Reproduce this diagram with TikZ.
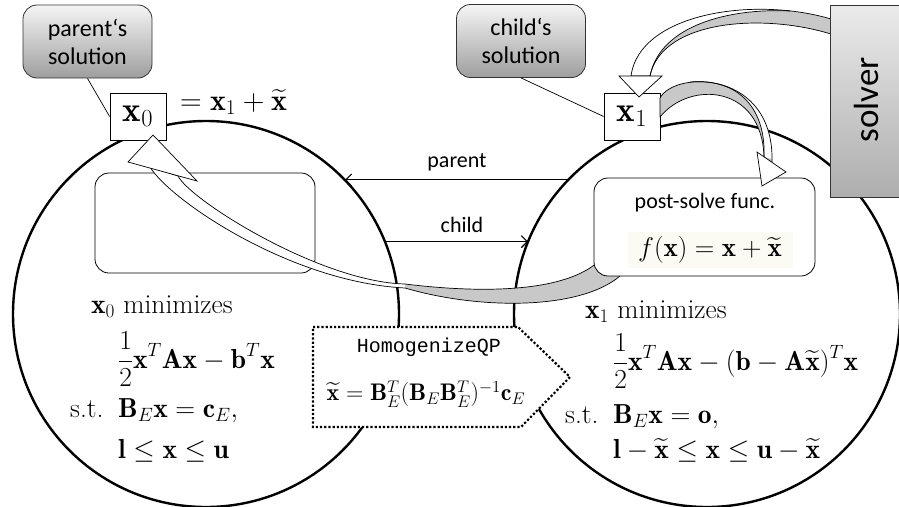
\RequirePackage{fix-cm}
\documentclass[tikz,border=0pt]{standalone}
\usepackage{amsmath}
\usepackage{fontspec}
\newfontfamily\calfont{Carlito}
\newfontfamily\hqmono{Liberation Mono}
\usetikzlibrary{arrows.meta}
\definecolor{ribgray}{RGB}{200,200,200}
\definecolor{cream}{RGB}{251,250,243}
\begin{document}
\begin{tikzpicture}[x=1pt,y=-1pt,
  bigcirc/.style={circle,draw,line width=2.4pt,inner sep=0pt,outer sep=0pt,minimum size=386pt},
  rbox/.style={draw,rounded corners=14pt,line width=0.8pt,fill=white,inner sep=0pt},
  callout/.style={draw=black!80,rounded corners=14pt,line width=0.8pt,top color=black!4,bottom color=black!38,minimum width=129pt,minimum height=73pt,align=center,font=\calfont\fontsize{24}{28}\selectfont,inner sep=0pt},
  xbox/.style={draw,fill=white,line width=0.8pt,minimum width=56pt,minimum height=47pt,inner sep=0pt,font=\fontsize{35}{40}\selectfont},
  sflab/.style={font=\calfont\fontsize{22}{27}\selectfont,inner sep=0pt},
  mtext/.style={font=\fontsize{27.5}{32}\selectfont,inner sep=0pt,anchor=base west},
  hline/.style={line width=1.1pt,-{Straight Barb[length=6pt,width=12pt,line width=1.1pt]}},
  ribline/.style={line width=0.7pt,line join=round},
  headst/.style={draw,line width=0.7pt,fill=white,line join=miter},
  hqdots/.style={line width=2.2pt,dash pattern=on 2.2pt off 2pt,fill=white},
]
\useasboundingbox (0,0) rectangle (899,506);

% circles
\node[bigcirc] (lc) at (206,314) {};
\node[bigcirc] (rc) at (707,314) {};

% inner left box
\node[rbox,minimum width=220pt,minimum height=100pt] (lbox) at (205,223) {};

% parent / child arrows
\draw[hline] (rc.136) -- (lc.44);
\node[sflab] (plab) at (457,162) {parent};
\draw[hline] (lc.22) -- (rc.158);
\node[sflab] (clab) at (462,225) {child};

% HomogenizeQP
\draw[hqdots] (313,327) -- (518,327) -- (570,377) -- (521,427) -- (313,427) -- cycle;
\node[font=\hqmono\fontsize{20}{24}\selectfont,inner sep=0pt] (hqt) at (429,347) {HomogenizeQP};
\node[font=\fontsize{24}{29}\selectfont,inner sep=0pt] (hqf) at (426,394)
  {$\widetilde{\mathbf x}=\mathbf B_E^T(\mathbf B_E\mathbf B_E^T)^{-1}\mathbf c_E$};

% callouts
\node[callout] (pcall) at (87.5,41.5) {parent‘s\\solution};
\node[callout] (ccall) at (521,41) {child‘s\\solution};

% x boxes
\node[xbox] (x0) at (138,116.5) {$\mathbf x_0$};
\node[xbox] (x1) at (632,116.5) {$\mathbf x_1$};
\draw[line width=0.7pt] (pcall.south) -- (x0.west);
\draw[line width=0.7pt] (ccall.south) -- (x1.west);
\node[mtext,font=\fontsize{30}{34}\selectfont] (eq0) at (180,110) {$=\mathbf x_1+\widetilde{\mathbf x}$};

% ribbon 3 (post-solve -> x0)
\fill[ribgray] (598,262) .. controls (560,295) and (470,292) .. (405,284) .. controls (320,282) and (190,200) .. (178,176) -- (150,167) .. controls (170,200) and (290,282) .. (405,288) .. controls (480,310) and (580,310) .. (620,276) -- cycle;
\begin{scope}
\clip (598,262) .. controls (560,295) and (470,292) .. (405,284) .. controls (320,282) and (190,200) .. (178,176) -- (150,167) .. controls (170,200) and (290,282) .. (405,288) .. controls (480,310) and (580,310) .. (620,276) -- cycle;
\fill[white] (0,0) rectangle (405,506);
\end{scope}
\draw[ribline] (598,262) .. controls (560,295) and (470,292) .. (405,284) .. controls (320,282) and (190,200) .. (178,176) -- (150,167) .. controls (170,200) and (290,282) .. (405,288) .. controls (480,310) and (580,310) .. (620,276) -- cycle;
\draw[headst] (128,162) -- (153,135) -- (197,181) -- cycle;

% post-solve box
\node[rbox,minimum width=221pt,minimum height=98pt] (ps) at (704.5,227) {};
\fill[cream] (628,232) rectangle (793,268);
\node[sflab] (pst) at (705,203) {post-solve func.};
\node[font=\fontsize{27}{32}\selectfont,inner sep=0pt] (psf) at (710,250) {$f(\mathbf x)=\mathbf x+\widetilde{\mathbf x}$};

% ribbon 1 (solver -> x1)
\fill[ribgray] (840,22) .. controls (765,-5) and (640,10) .. (631,76) -- (650,76) .. controls (662,18) and (770,12) .. (840,37) -- cycle;
\begin{scope}
\clip (840,22) .. controls (765,-5) and (640,10) .. (631,76) -- (650,76) .. controls (662,18) and (770,12) .. (840,37) -- cycle;
\fill[white] (650,76) .. controls (660,25) and (730,8) .. (790,11) -- (790,-20) -- (600,-20) -- (600,76) -- cycle;
\end{scope}
\draw[ribline] (840,22) .. controls (765,-5) and (640,10) .. (631,76) -- (650,76) .. controls (662,18) and (770,12) .. (840,37) -- cycle;
\draw[ribline] (650,76) .. controls (660,25) and (730,8) .. (790,11);
\draw[headst] (619,76) -- (662,76) -- (639,97) -- cycle;

% solver
\node[draw=black!80,line width=0.8pt,top color=black!8,bottom color=black!32,minimum width=75pt,minimum height=192pt,inner sep=0pt] (solver) at (867.5,101) {};
\node[rotate=90,font=\calfont\fontsize{35}{40}\selectfont,inner sep=0pt] (solvt) at (866,100) {solver};

% ribbon 2 (x1 -> post-solve)
\fill[ribgray] (660,98) .. controls (675,70) and (775,70) .. (772,163) -- (764,157) .. controls (762,85) and (690,80) .. (660,117) -- cycle;
\begin{scope}
\clip (660,98) .. controls (675,70) and (775,70) .. (772,163) -- (764,157) .. controls (762,85) and (690,80) .. (660,117) -- cycle;
\fill[white] (764,157) .. controls (766,110) and (740,78) .. (690,82) -- (690,50) -- (820,50) -- (820,170) -- cycle;
\end{scope}
\draw[ribline] (660,98) .. controls (675,70) and (775,70) .. (772,163) -- (764,157) .. controls (762,85) and (690,80) .. (660,117) -- cycle;
\draw[ribline] (764,157) .. controls (766,110) and (740,78) .. (690,82);
\draw[headst] (757,152) -- (786,172) -- (762,186) -- cycle;

% left problem
\node[mtext] (m0) at (91,313) {$\mathbf x_0$ minimizes};
\node[mtext] (f0) at (118,368) {$\displaystyle\frac12\mathbf x^T\mathbf A\mathbf x-\mathbf b^T\mathbf x$};
\node[mtext] (st0) at (70,417) {s.t.};
\node[mtext] (c0) at (118,417) {$\mathbf B_E\mathbf x=\mathbf c_E,$};
\node[mtext] (b0) at (118,458) {$\mathbf l\le\mathbf x\le\mathbf u$};

% right problem
\node[mtext] (m1) at (585,318) {$\mathbf x_1$ minimizes};
\node[mtext] (f1) at (613,370) {$\displaystyle\frac12\mathbf x^T\mathbf A\mathbf x-(\mathbf b-\mathbf A\widetilde{\mathbf x})^T\mathbf x$};
\node[mtext] (st1) at (565,423) {s.t.};
\node[mtext] (c1) at (613,423) {$\mathbf B_E\mathbf x=\mathbf o,$};
\node[mtext] (b1) at (613,458) {$\mathbf l-\widetilde{\mathbf x}\le\mathbf x\le\mathbf u-\widetilde{\mathbf x}$};
\end{tikzpicture}
\end{document}
